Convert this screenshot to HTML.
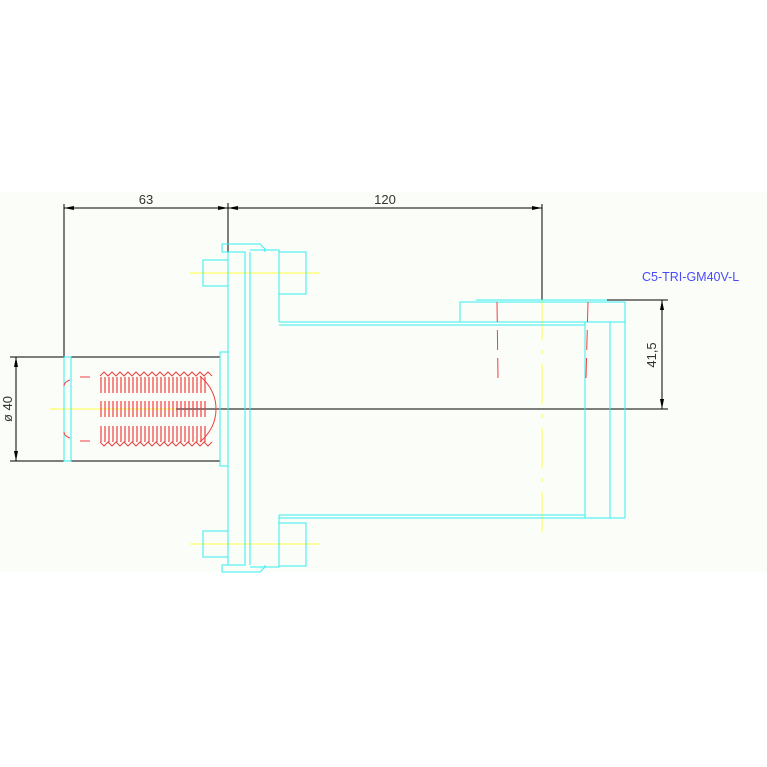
<!DOCTYPE html><html><head><style>body{margin:0;background:#fff}svg{display:block}</style></head><body>
<svg width="767" height="767" xmlns="http://www.w3.org/2000/svg" font-family="Liberation Sans, sans-serif">
<rect x="0" y="192" width="767" height="380" fill="#fbfdf8"/>
<g stroke="#000" stroke-width="1" fill="none">
<line x1="64" y1="208" x2="228" y2="208"/><line x1="228" y1="208" x2="542" y2="208"/>
<line x1="64" y1="204" x2="64" y2="372"/><line x1="228" y1="203" x2="228" y2="252"/>
<line x1="542" y1="204" x2="542" y2="300"/>
<line x1="10" y1="357" x2="220" y2="357"/><line x1="10" y1="461" x2="220" y2="461"/>
<line x1="16" y1="357" x2="16" y2="461"/>
<line x1="176" y1="409" x2="668" y2="409"/>
<line x1="607" y1="300" x2="668" y2="300"/><line x1="662" y1="300" x2="662" y2="409"/>
</g>
<g fill="#000">
<polygon points="64,208 74,206 74,210"/><polygon points="228,208 218,206 218,210"/>
<polygon points="228,208 238,206 238,210"/><polygon points="542,208 532,206 532,210"/>
<polygon points="16,357 14,367 18,367"/><polygon points="16,461 14,451 18,451"/>
<polygon points="662,300 660,310 664,310"/><polygon points="662,409 660,399 664,399"/>
</g>
<g fill="#333" font-size="13">
<text x="146" y="204" text-anchor="middle">63</text>
<text x="385" y="204" text-anchor="middle">120</text>
<text transform="translate(12,409) rotate(-90)" text-anchor="middle">ø 40</text>
<text transform="translate(656,355) rotate(-90)" text-anchor="middle">41,5</text>
</g>
<text x="642" y="281" fill="#4a4aff" font-size="12.5">C5-TRI-GM40V-L</text>
<g stroke="#ffff40" stroke-width="1">
<line x1="190" y1="273" x2="320" y2="273"/><line x1="190" y1="544" x2="320" y2="544"/>
<line x1="50" y1="409" x2="176" y2="409"/>
<line x1="542" y1="300" x2="542" y2="532" stroke-dasharray="40,10,4,10"/>
</g>
<g stroke="#33f0f0" stroke-width="1" fill="none">
<rect x="64" y="357" width="7" height="104"/>
<rect x="220" y="352" width="8" height="114"/>
<polyline points="228,252 222,252 222,244 260,244 265,249 265,252"/>
<polyline points="228,565 222,565 222,572 260,572 265,567 265,565"/>
<rect x="228" y="252" width="17" height="313"/>
<line x1="250" y1="252" x2="250" y2="565"/>
<polyline points="250,250 279,250 279,322"/>
<polyline points="250,567 279,567 279,515"/>
<rect x="203" y="260" width="25" height="26"/><rect x="203" y="531" width="25" height="26"/>
<rect x="279" y="252" width="27" height="42"/><rect x="279" y="523" width="27" height="43"/>
<line x1="279" y1="325" x2="585" y2="325"/><line x1="279" y1="322" x2="625" y2="322"/>
<line x1="279" y1="515" x2="585" y2="515"/><line x1="279" y1="518" x2="625" y2="518"/>
<rect x="460" y="302" width="165" height="20"/>
<line x1="476" y1="300" x2="607" y2="300"/>
<line x1="585" y1="322" x2="585" y2="518"/><line x1="610" y1="322" x2="610" y2="518"/>
<line x1="625" y1="322" x2="625" y2="518"/>
</g>
<g stroke="#f04040" stroke-width="1" fill="none">
<line x1="497" y1="302" x2="498" y2="378" stroke-dasharray="20,8"/>
<line x1="588" y1="302" x2="586" y2="378" stroke-dasharray="20,8"/>
<path d="M100,376 l4,-4 l4,4 l4,-4 l4,4 l4,-4 l4,4 l4,-4 l4,4 l4,-4 l4,4 l4,-4 l4,4 l4,-4 l4,4 l4,-4 l4,4 l4,-4 l4,4 l4,-4 l4,4 l4,-4 l4,4 l4,-4 l4,4 l4,-4 l4,4 l4,-4 l4,4"/>
<path d="M100,442 l4,4 l4,-4 l4,4 l4,-4 l4,4 l4,-4 l4,4 l4,-4 l4,4 l4,-4 l4,4 l4,-4 l4,4 l4,-4 l4,4 l4,-4 l4,4 l4,-4 l4,4 l4,-4 l4,4 l4,-4 l4,4 l4,-4 l4,4 l4,-4 l4,4 l4,-4"/>
<path d="M200,376 Q216,390 216,409 Q216,428 200,442"/>
<path d="M70,380 Q64,382 64,386 M80,377 h10 M70,438 Q64,436 64,432 M80,441 h10"/>
<g stroke-width="1.2">
<path d="M101,377v16M105,377v16M109,377v16M113,377v16M117,377v16M121,377v16M125,377v16M129,377v16M133,377v16M137,377v16M141,377v16M145,377v16M149,377v16M153,377v16M157,377v16M161,377v16M165,377v16M169,377v16M173,377v16M177,377v16M181,377v16M185,377v16M189,377v16M193,377v16M197,377v16M201,377v16M205,377v16"/>
<path d="M101,401v16M105,401v16M109,401v16M113,401v16M117,401v16M121,401v16M125,401v16M129,401v16M133,401v16M137,401v16M141,401v16M145,401v16M149,401v16M153,401v16M157,401v16M161,401v16M165,401v16M169,401v16M173,401v16M177,401v16M181,401v16M185,401v16M189,401v16M193,401v16M197,401v16M201,401v16M205,401v16"/>
<path d="M101,426v16M105,426v16M109,426v16M113,426v16M117,426v16M121,426v16M125,426v16M129,426v16M133,426v16M137,426v16M141,426v16M145,426v16M149,426v16M153,426v16M157,426v16M161,426v16M165,426v16M169,426v16M173,426v16M177,426v16M181,426v16M185,426v16M189,426v16M193,426v16M197,426v16M201,426v16M205,426v16"/>
</g>
</g>
</svg>
</body></html>
